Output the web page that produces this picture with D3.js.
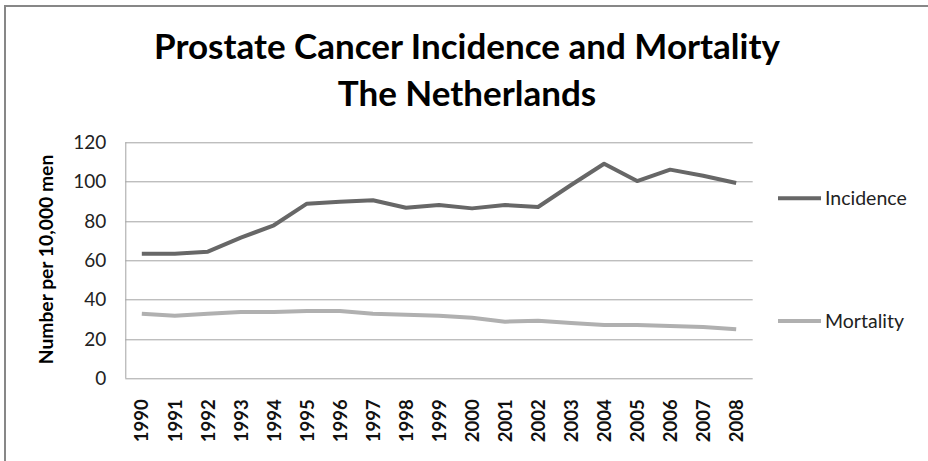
<!DOCTYPE html>
<html>
<head>
<meta charset="utf-8">
<script src="https://cdn.jsdelivr.net/npm/d3@7"></script>
<style>
  body { margin: 0; background: #fff; }
  svg { display: block; }
</style>
</head>
<body>
<div id="chart"></div>
<script>
// chart data
const years = [
  "1990", "1991", "1992", "1993", "1994", "1995", "1996", "1997", "1998", "1999",
  "2000", "2001", "2002", "2003", "2004", "2005", "2006", "2007", "2008",
];
const incidence = [
  63.3, 63.3, 64.4, 71.5, 77.8, 88.8, 89.8, 90.5, 86.7, 88.1,
  86.4, 88.1, 87.1, 98.3, 109.1, 100.3, 106.1, 103.0, 99.3,
];
const mortality = [
  32.8, 31.8, 32.8, 33.7, 33.7, 34.2, 34.2, 32.8, 32.3, 31.8,
  30.8, 28.8, 29.3, 28.1, 27.1, 27.1, 26.6, 26.1, 24.9,
];
const yTicks = [0, 20, 40, 60, 80, 100, 120];
const seriesNames = ["Incidence", "Mortality"];
const titleLines = ["Prostate Cancer Incidence and Mortality", "The Netherlands"];
const yTitle = "Number per 10,000 men";

class LineChart {
  constructor(_config) {
    this.config = {
      parentElement: _config.parentElement,
      containerWidth: 928,
      containerHeight: 461,
      margin: { top: 142.3, right: 175.3, bottom: 82.7, left: 125.3 },
    };
    this.initVis();
  }

  initVis() {
    let vis = this;

    vis.config.width =
      vis.config.containerWidth - vis.config.margin.left - vis.config.margin.right;
    vis.config.height =
      vis.config.containerHeight - vis.config.margin.top - vis.config.margin.bottom;

    vis.root = d3
      .select(vis.config.parentElement)
      .append("svg")
      .attr("width", vis.config.containerWidth)
      .attr("height", vis.config.containerHeight);

    // outer chart frame, runs off the right and bottom of the picture
    vis.root
      .append("rect")
      .attr("x", 5)
      .attr("y", 6)
      .attr("width", 1000)
      .attr("height", 600)
      .attr("fill", "none")
      .attr("stroke", "#878787")
      .attr("stroke-width", 2);

    vis.svg = vis.root
      .append("g")
      .attr("transform", `translate(${vis.config.margin.left},${vis.config.margin.top})`);

    vis.xScale = d3.scaleBand().domain(years).range([0, vis.config.width]);
    vis.yScale = d3.scaleLinear().domain([0, 120]).range([vis.config.height, 0]);
    vis.colorScale = d3.scaleOrdinal().domain(seriesNames).range(["#676767", "#b0b0b0"]);

    vis.series = [
      { name: seriesNames[0], values: incidence },
      { name: seriesNames[1], values: mortality },
    ];

    vis.updateVis();
  }

  updateVis() {
    let vis = this;
    vis.line = d3
      .line()
      .x((d, i) => vis.xScale(years[i]) + vis.xScale.bandwidth() / 2)
      .y((d) => vis.yScale(d));
    vis.renderVis();
  }

  renderVis() {
    let vis = this;
    const font = "Lato, 'Open Sans', sans-serif";

    // title
    vis.root
      .append("g")
      .selectAll("text")
      .data(titleLines)
      .join("text")
      .attr("x", 467)
      .attr("y", (d, i) => 59 + i * 47)
      .attr("text-anchor", "middle")
      .attr("font-family", font)
      .attr("font-weight", "bold")
      .attr("font-size", 35)
      .attr("fill", "#000")
      .text((d) => d);

    // horizontal gridlines
    vis.svg
      .append("g")
      .selectAll("line")
      .data(yTicks)
      .join("line")
      .attr("x1", 0)
      .attr("x2", vis.config.width)
      .attr("y1", (d) => Math.round(vis.yScale(d)) + 0.5)
      .attr("y2", (d) => Math.round(vis.yScale(d)) + 0.5)
      .attr("stroke", "#a3a3a3")
      .attr("stroke-width", 1);

    // y axis
    const yAxis = d3.axisLeft(vis.yScale).tickValues(yTicks).tickSize(0).tickPadding(19);
    const yG = vis.svg.append("g").call(yAxis);
    yG.select(".domain").attr("stroke", "#a3a3a3").attr("d", `M0.5,0V${vis.config.height}`);
    yG.selectAll("text")
      .attr("font-family", font)
      .attr("font-size", 19)
      .attr("fill", "#222");

    // x axis labels, rotated
    const xAxis = d3.axisBottom(vis.xScale).tickSize(0).tickPadding(0);
    const xG = vis.svg
      .append("g")
      .attr("transform", `translate(0,${vis.config.height})`)
      .call(xAxis);
    xG.select(".domain").remove();
    xG.selectAll("text")
      .attr("transform", "translate(0,21) rotate(-90)")
      .attr("text-anchor", "end")
      .attr("x", 0)
      .attr("y", 0)
      .attr("dy", "0.36em")
      .attr("font-family", font)
      .attr("font-weight", "bold")
      .attr("font-size", 18.5)
      .attr("fill", "#111");

    // y axis title
    vis.root
      .append("text")
      .attr("transform", "translate(53,259.5) rotate(-90)")
      .attr("text-anchor", "middle")
      .attr("font-family", font)
      .attr("font-weight", "bold")
      .attr("font-size", 19.3)
      .attr("fill", "#000")
      .text(yTitle);

    // lines
    vis.svg
      .append("g")
      .selectAll("path")
      .data(vis.series)
      .join("path")
      .attr("d", (d) => vis.line(d.values))
      .attr("fill", "none")
      .attr("stroke", (d) => vis.colorScale(d.name))
      .attr("stroke-width", 4)
      .attr("stroke-linejoin", "round");

    // legend
    const legendY = { Incidence: 198.3, Mortality: 321 };
    const legend = vis.root
      .append("g")
      .selectAll("g")
      .data(seriesNames)
      .join("g")
      .attr("transform", (d) => `translate(778,${legendY[d]})`);
    legend
      .append("line")
      .attr("x1", 0)
      .attr("x2", 43)
      .attr("stroke", (d) => vis.colorScale(d))
      .attr("stroke-width", 4);
    legend
      .append("text")
      .attr("x", 47)
      .attr("dy", "0.36em")
      .attr("font-family", font)
      .attr("font-size", 19.5)
      .attr("fill", "#222")
      .text((d) => d);
  }
}

new LineChart({ parentElement: "#chart" });
</script>
</body>
</html>
